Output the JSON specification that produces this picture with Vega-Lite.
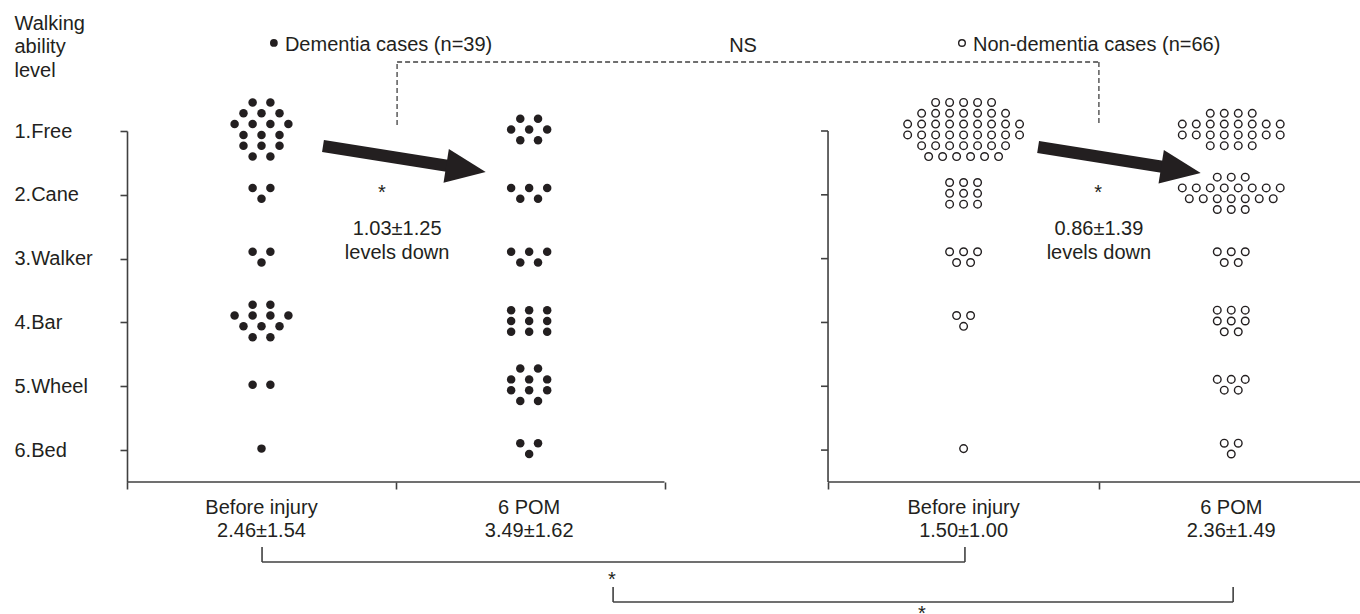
{
"$schema":"https://vega.github.io/schema/vega-lite/v6.json",
"width":1233,"height":351,
"autosize":{"type":"none"},
"padding":{"left":127,"top":131,"right":0,"bottom":132},
"background":"white",
"config":{"view":{"stroke":null},"font":"Liberation Sans","text":{"font":"Liberation Sans","fontSize":20,"color":"#231f20"}},
"datasets":{
"dem":[
{"t":"Before injury","x":0.467,"y":0.553},{"t":"Before injury","x":0.533,"y":0.553},
{"t":"Before injury","x":0.433,"y":0.723},{"t":"Before injury","x":0.5,"y":0.723},{"t":"Before injury","x":0.567,"y":0.723},
{"t":"Before injury","x":0.4,"y":0.892},{"t":"Before injury","x":0.467,"y":0.892},{"t":"Before injury","x":0.533,"y":0.892},{"t":"Before injury","x":0.6,"y":0.892},
{"t":"Before injury","x":0.433,"y":1.061},{"t":"Before injury","x":0.5,"y":1.061},{"t":"Before injury","x":0.567,"y":1.061},
{"t":"Before injury","x":0.433,"y":1.23},{"t":"Before injury","x":0.5,"y":1.23},{"t":"Before injury","x":0.567,"y":1.23},
{"t":"Before injury","x":0.467,"y":1.4},{"t":"Before injury","x":0.533,"y":1.4},
{"t":"Before injury","x":0.467,"y":1.892},{"t":"Before injury","x":0.533,"y":1.892},{"t":"Before injury","x":0.5,"y":2.061},
{"t":"Before injury","x":0.467,"y":2.892},{"t":"Before injury","x":0.533,"y":2.892},{"t":"Before injury","x":0.5,"y":3.061},
{"t":"Before injury","x":0.467,"y":3.723},{"t":"Before injury","x":0.533,"y":3.723},
{"t":"Before injury","x":0.4,"y":3.892},{"t":"Before injury","x":0.467,"y":3.892},{"t":"Before injury","x":0.533,"y":3.892},{"t":"Before injury","x":0.6,"y":3.892},
{"t":"Before injury","x":0.433,"y":4.061},{"t":"Before injury","x":0.5,"y":4.061},{"t":"Before injury","x":0.567,"y":4.061},
{"t":"Before injury","x":0.467,"y":4.23},{"t":"Before injury","x":0.533,"y":4.23},
{"t":"Before injury","x":0.467,"y":4.977},{"t":"Before injury","x":0.533,"y":4.977},
{"t":"Before injury","x":0.5,"y":5.977},
{"t":"6 POM","x":1.462,"y":0.807},{"t":"6 POM","x":1.528,"y":0.807},
{"t":"6 POM","x":1.428,"y":0.977},{"t":"6 POM","x":1.495,"y":0.977},{"t":"6 POM","x":1.562,"y":0.977},
{"t":"6 POM","x":1.462,"y":1.146},{"t":"6 POM","x":1.528,"y":1.146},
{"t":"6 POM","x":1.428,"y":1.892},{"t":"6 POM","x":1.495,"y":1.892},{"t":"6 POM","x":1.562,"y":1.892},
{"t":"6 POM","x":1.462,"y":2.061},{"t":"6 POM","x":1.528,"y":2.061},
{"t":"6 POM","x":1.428,"y":2.892},{"t":"6 POM","x":1.495,"y":2.892},{"t":"6 POM","x":1.562,"y":2.892},
{"t":"6 POM","x":1.462,"y":3.061},{"t":"6 POM","x":1.528,"y":3.061},
{"t":"6 POM","x":1.428,"y":3.807},{"t":"6 POM","x":1.495,"y":3.807},{"t":"6 POM","x":1.562,"y":3.807},
{"t":"6 POM","x":1.428,"y":3.977},{"t":"6 POM","x":1.495,"y":3.977},{"t":"6 POM","x":1.562,"y":3.977},
{"t":"6 POM","x":1.428,"y":4.146},{"t":"6 POM","x":1.495,"y":4.146},{"t":"6 POM","x":1.562,"y":4.146},
{"t":"6 POM","x":1.462,"y":4.723},{"t":"6 POM","x":1.528,"y":4.723},
{"t":"6 POM","x":1.428,"y":4.892},{"t":"6 POM","x":1.495,"y":4.892},{"t":"6 POM","x":1.562,"y":4.892},
{"t":"6 POM","x":1.428,"y":5.061},{"t":"6 POM","x":1.495,"y":5.061},{"t":"6 POM","x":1.562,"y":5.061},
{"t":"6 POM","x":1.462,"y":5.23},{"t":"6 POM","x":1.528,"y":5.23},
{"t":"6 POM","x":1.462,"y":5.892},{"t":"6 POM","x":1.528,"y":5.892},{"t":"6 POM","x":1.495,"y":6.061}
],
"non":[
{"t":"Before injury","x":3.006,"y":0.553},{"t":"Before injury","x":3.058,"y":0.553},{"t":"Before injury","x":3.11,"y":0.553},{"t":"Before injury","x":3.162,"y":0.553},{"t":"Before injury","x":3.214,"y":0.553},
{"t":"Before injury","x":2.954,"y":0.723},{"t":"Before injury","x":3.006,"y":0.723},{"t":"Before injury","x":3.058,"y":0.723},{"t":"Before injury","x":3.11,"y":0.723},{"t":"Before injury","x":3.162,"y":0.723},{"t":"Before injury","x":3.214,"y":0.723},{"t":"Before injury","x":3.266,"y":0.723},
{"t":"Before injury","x":2.902,"y":0.892},{"t":"Before injury","x":2.954,"y":0.892},{"t":"Before injury","x":3.006,"y":0.892},{"t":"Before injury","x":3.058,"y":0.892},{"t":"Before injury","x":3.11,"y":0.892},{"t":"Before injury","x":3.162,"y":0.892},{"t":"Before injury","x":3.214,"y":0.892},{"t":"Before injury","x":3.266,"y":0.892},{"t":"Before injury","x":3.318,"y":0.892},
{"t":"Before injury","x":2.902,"y":1.061},{"t":"Before injury","x":2.954,"y":1.061},{"t":"Before injury","x":3.006,"y":1.061},{"t":"Before injury","x":3.058,"y":1.061},{"t":"Before injury","x":3.11,"y":1.061},{"t":"Before injury","x":3.162,"y":1.061},{"t":"Before injury","x":3.214,"y":1.061},{"t":"Before injury","x":3.266,"y":1.061},{"t":"Before injury","x":3.318,"y":1.061},
{"t":"Before injury","x":2.954,"y":1.23},{"t":"Before injury","x":3.006,"y":1.23},{"t":"Before injury","x":3.058,"y":1.23},{"t":"Before injury","x":3.11,"y":1.23},{"t":"Before injury","x":3.162,"y":1.23},{"t":"Before injury","x":3.214,"y":1.23},{"t":"Before injury","x":3.266,"y":1.23},
{"t":"Before injury","x":2.98,"y":1.4},{"t":"Before injury","x":3.032,"y":1.4},{"t":"Before injury","x":3.084,"y":1.4},{"t":"Before injury","x":3.136,"y":1.4},{"t":"Before injury","x":3.188,"y":1.4},{"t":"Before injury","x":3.24,"y":1.4},
{"t":"Before injury","x":3.058,"y":1.807},{"t":"Before injury","x":3.11,"y":1.807},{"t":"Before injury","x":3.162,"y":1.807},
{"t":"Before injury","x":3.058,"y":1.977},{"t":"Before injury","x":3.11,"y":1.977},{"t":"Before injury","x":3.162,"y":1.977},
{"t":"Before injury","x":3.058,"y":2.146},{"t":"Before injury","x":3.11,"y":2.146},{"t":"Before injury","x":3.162,"y":2.146},
{"t":"Before injury","x":3.058,"y":2.892},{"t":"Before injury","x":3.11,"y":2.892},{"t":"Before injury","x":3.162,"y":2.892},
{"t":"Before injury","x":3.084,"y":3.061},{"t":"Before injury","x":3.136,"y":3.061},
{"t":"Before injury","x":3.084,"y":3.892},{"t":"Before injury","x":3.136,"y":3.892},{"t":"Before injury","x":3.11,"y":4.061},
{"t":"Before injury","x":3.11,"y":5.977},
{"t":"6 POM","x":4.027,"y":0.723},{"t":"6 POM","x":4.079,"y":0.723},{"t":"6 POM","x":4.131,"y":0.723},{"t":"6 POM","x":4.183,"y":0.723},
{"t":"6 POM","x":3.923,"y":0.892},{"t":"6 POM","x":3.975,"y":0.892},{"t":"6 POM","x":4.027,"y":0.892},{"t":"6 POM","x":4.079,"y":0.892},{"t":"6 POM","x":4.131,"y":0.892},{"t":"6 POM","x":4.183,"y":0.892},{"t":"6 POM","x":4.235,"y":0.892},{"t":"6 POM","x":4.287,"y":0.892},
{"t":"6 POM","x":3.923,"y":1.061},{"t":"6 POM","x":3.975,"y":1.061},{"t":"6 POM","x":4.027,"y":1.061},{"t":"6 POM","x":4.079,"y":1.061},{"t":"6 POM","x":4.131,"y":1.061},{"t":"6 POM","x":4.183,"y":1.061},{"t":"6 POM","x":4.235,"y":1.061},{"t":"6 POM","x":4.287,"y":1.061},
{"t":"6 POM","x":4.027,"y":1.23},{"t":"6 POM","x":4.079,"y":1.23},{"t":"6 POM","x":4.131,"y":1.23},{"t":"6 POM","x":4.183,"y":1.23},
{"t":"6 POM","x":4.053,"y":1.723},{"t":"6 POM","x":4.105,"y":1.723},{"t":"6 POM","x":4.157,"y":1.723},
{"t":"6 POM","x":3.923,"y":1.892},{"t":"6 POM","x":3.975,"y":1.892},{"t":"6 POM","x":4.027,"y":1.892},{"t":"6 POM","x":4.079,"y":1.892},{"t":"6 POM","x":4.131,"y":1.892},{"t":"6 POM","x":4.183,"y":1.892},{"t":"6 POM","x":4.235,"y":1.892},{"t":"6 POM","x":4.287,"y":1.892},
{"t":"6 POM","x":3.949,"y":2.061},{"t":"6 POM","x":4.001,"y":2.061},{"t":"6 POM","x":4.053,"y":2.061},{"t":"6 POM","x":4.105,"y":2.061},{"t":"6 POM","x":4.157,"y":2.061},{"t":"6 POM","x":4.209,"y":2.061},{"t":"6 POM","x":4.261,"y":2.061},
{"t":"6 POM","x":4.053,"y":2.23},{"t":"6 POM","x":4.105,"y":2.23},{"t":"6 POM","x":4.157,"y":2.23},
{"t":"6 POM","x":4.053,"y":2.892},{"t":"6 POM","x":4.105,"y":2.892},{"t":"6 POM","x":4.157,"y":2.892},
{"t":"6 POM","x":4.079,"y":3.061},{"t":"6 POM","x":4.131,"y":3.061},
{"t":"6 POM","x":4.053,"y":3.807},{"t":"6 POM","x":4.105,"y":3.807},{"t":"6 POM","x":4.157,"y":3.807},
{"t":"6 POM","x":4.053,"y":3.977},{"t":"6 POM","x":4.105,"y":3.977},{"t":"6 POM","x":4.157,"y":3.977},
{"t":"6 POM","x":4.079,"y":4.146},{"t":"6 POM","x":4.131,"y":4.146},
{"t":"6 POM","x":4.053,"y":4.892},{"t":"6 POM","x":4.105,"y":4.892},{"t":"6 POM","x":4.157,"y":4.892},
{"t":"6 POM","x":4.079,"y":5.061},{"t":"6 POM","x":4.131,"y":5.061},
{"t":"6 POM","x":4.079,"y":5.892},{"t":"6 POM","x":4.131,"y":5.892},{"t":"6 POM","x":4.105,"y":6.061}
],
"lines":[
{"x":0,"x2":1.998,"y":6.5,"y2":6.5},
{"x":2.606,"x2":4.5836,"y":6.5,"y2":6.5},
{"x":2.606,"x2":2.606,"y":1,"y2":6.5},
{"x":2.58,"x2":2.606,"y":1,"y2":1},
{"x":2.58,"x2":2.606,"y":2,"y2":2},
{"x":2.58,"x2":2.606,"y":3,"y2":3},
{"x":2.58,"x2":2.606,"y":4,"y2":4},
{"x":2.58,"x2":2.606,"y":5,"y2":5},
{"x":2.58,"x2":2.606,"y":6,"y2":6},
{"x":0.502,"x2":0.502,"y":7.518,"y2":7.753},
{"x":0.502,"x2":3.115,"y":7.753,"y2":7.753},
{"x":3.115,"x2":3.115,"y":7.518,"y2":7.753},
{"x":1.807,"x2":1.807,"y":8.145,"y2":8.38},
{"x":1.807,"x2":4.112,"y":8.38,"y2":8.38},
{"x":4.112,"x2":4.112,"y":8.145,"y2":8.38}
],
"dashed":[
{"x":1.004,"x2":1.004,"y":0.906,"y2":-0.081},
{"x":1.004,"x2":3.613,"y":-0.081,"y2":-0.081},
{"x":3.613,"x2":3.613,"y":-0.081,"y2":0.906}
],
"shafts":[
{"x":0.7286,"y":1.235,"x2":1.19,"y2":1.545},
{"x":3.387,"y":1.25,"x2":3.848,"y2":1.56}
],
"heads":[
{"x":1.26,"y":1.595},
{"x":3.918,"y":1.61}
],
"labels":[
{"x":0.5,"y":7.0,"t":"Before injury\n2.46±1.54"},
{"x":1.495,"y":7.0,"t":"6 POM\n3.49±1.62"},
{"x":3.11,"y":7.0,"t":"Before injury\n1.50±1.00"},
{"x":4.105,"y":7.0,"t":"6 POM\n2.36±1.49"},
{"x":1.004,"y":2.63,"t":"1.03±1.25\nlevels down"},
{"x":3.613,"y":2.63,"t":"0.86±1.39\nlevels down"},
{"x":0.948,"y":2.058,"t":"*"},
{"x":3.61,"y":2.058,"t":"*"},
{"x":1.803,"y":8.137,"t":"*"},
{"x":2.955,"y":8.66,"t":"*"},
{"x":2.29,"y":-0.238,"t":"NS"}
],
"legend":[
{"x":0.587,"y":-0.261,"t":"Dementia cases (n=39)"},
{"x":3.145,"y":-0.261,"t":"Non-dementia cases (n=66)"}
],
"legdotF":[{"x":0.546,"y":-0.379}],
"legdotO":[{"x":3.104,"y":-0.379}]
},
"layer":[
{"data":{"name":"dem"},
 "mark":{"type":"point","shape":"circle","filled":true,"color":"#231f20","size":72,"opacity":1},
 "encoding":{
  "x":{"field":"x","type":"quantitative","scale":{"domain":[0,4.5836],"nice":false,"zero":false},
       "axis":{"values":[0,1,2,2.606,3.613],"labels":false,"domain":false,"grid":false,"ticks":true,"tickSize":7,"tickColor":"#404040","tickWidth":1.6,"title":null}},
  "y":{"field":"y","type":"quantitative","scale":{"domain":[1,6.5],"nice":false,"zero":false,"reverse":true},
       "axis":{"values":[1,2,3,4,5,6],"labelExpr":"['1.Free','2.Cane','3.Walker','4.Bar','5.Wheel','6.Bed'][datum.value-1]","labelAlign":"left","labelBaseline":"middle","labelPadding":106,"labelFontSize":20,"labelFont":"Liberation Sans","labelColor":"#231f20","labelFlush":false,"labelOverlap":false,"labelBound":false,"tickSize":7,"tickColor":"#404040","tickWidth":1.6,"domainColor":"#404040","domainWidth":1.6,"grid":false,
               "title":["Walking","ability","level"],"titleAngle":0,"titleAlign":"left","titleBaseline":"alphabetic","titleX":-113,"titleY":-102,"titleFontSize":20,"titleFontWeight":"normal","titleFont":"Liberation Sans","titleColor":"#231f20","titleLineHeight":23.5}}
 }},
{"data":{"name":"non"},
 "mark":{"type":"point","shape":"circle","filled":false,"stroke":"#231f20","strokeWidth":1.4,"size":58,"opacity":1},
 "encoding":{
  "x":{"field":"x","type":"quantitative"},
  "y":{"field":"y","type":"quantitative"}
 }},
{"data":{"name":"lines"},
 "mark":{"type":"rule","color":"#404040","strokeWidth":1.6},
 "encoding":{"x":{"field":"x","type":"quantitative"},"x2":{"field":"x2"},"y":{"field":"y","type":"quantitative"},"y2":{"field":"y2"}}},
{"data":{"name":"dashed"},
 "mark":{"type":"rule","color":"#404040","strokeWidth":1.3,"strokeDash":[5,3]},
 "encoding":{"x":{"field":"x","type":"quantitative"},"x2":{"field":"x2"},"y":{"field":"y","type":"quantitative"},"y2":{"field":"y2"}}},
{"data":{"name":"shafts"},
 "mark":{"type":"rule","color":"#231f20","strokeWidth":12,"strokeCap":"butt"},
 "encoding":{"x":{"field":"x","type":"quantitative"},"x2":{"field":"x2"},"y":{"field":"y","type":"quantitative"},"y2":{"field":"y2"}}},
{"data":{"name":"heads"},
 "mark":{"type":"point","shape":"M-1,-0.85L1,0L-1,0.85Z","filled":true,"color":"#231f20","size":1600,"angle":9,"opacity":1,"strokeWidth":0},
 "encoding":{"x":{"field":"x","type":"quantitative"},"y":{"field":"y","type":"quantitative"}}},
{"data":{"name":"labels"},
 "mark":{"type":"text","align":"center","baseline":"alphabetic","fontSize":20,"font":"Liberation Sans","color":"#231f20","lineBreak":"\n","lineHeight":23.5},
 "encoding":{"x":{"field":"x","type":"quantitative"},"y":{"field":"y","type":"quantitative"},"text":{"field":"t"}}},
{"data":{"name":"legend"},
 "mark":{"type":"text","align":"left","baseline":"alphabetic","fontSize":20,"font":"Liberation Sans","color":"#231f20"},
 "encoding":{"x":{"field":"x","type":"quantitative"},"y":{"field":"y","type":"quantitative"},"text":{"field":"t"}}},
{"data":{"name":"legdotF"},
 "mark":{"type":"point","shape":"circle","filled":true,"color":"#231f20","size":60,"opacity":1},
 "encoding":{"x":{"field":"x","type":"quantitative"},"y":{"field":"y","type":"quantitative"}}},
{"data":{"name":"legdotO"},
 "mark":{"type":"point","shape":"circle","filled":false,"stroke":"#231f20","strokeWidth":1.4,"size":44,"opacity":1},
 "encoding":{"x":{"field":"x","type":"quantitative"},"y":{"field":"y","type":"quantitative"}}}
]
}
